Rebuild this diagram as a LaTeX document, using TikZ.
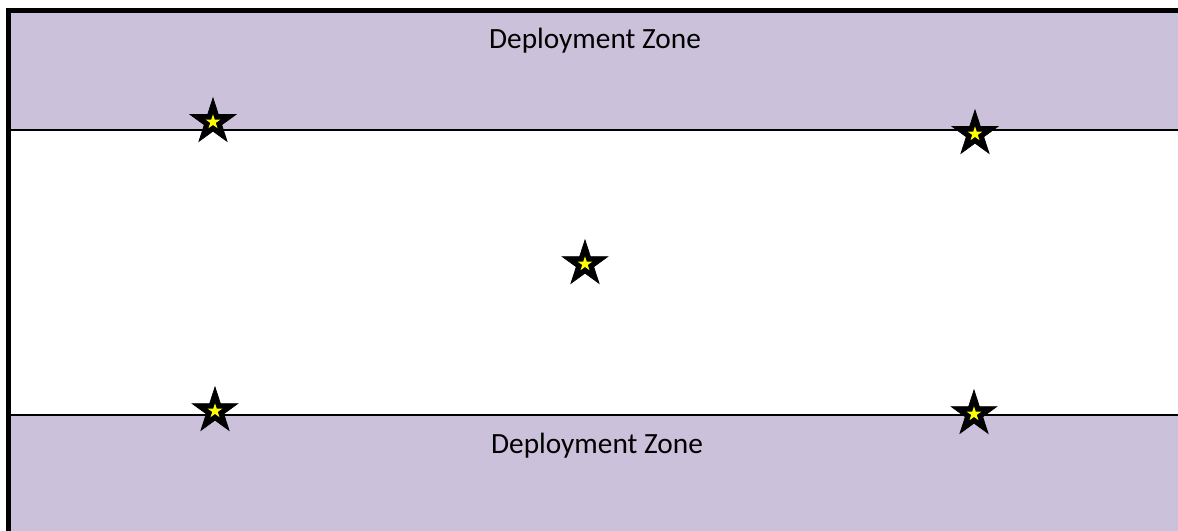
\documentclass[tikz,border=0pt]{standalone}
\usepackage{fontspec}
\setmainfont{Carlito}
\usetikzlibrary{shapes.geometric}
\definecolor{zonefill}{RGB}{204,193,218}
\definecolor{starcore}{RGB}{255,255,0}
\tikzset{
  zone/.style={fill=zonefill, draw=none},
  zoneedge/.style={draw=black, line width=1.5pt},
  frame/.style={draw=black, line width=3.75pt},
  zonelabel/.style={anchor=base, inner sep=0pt, font=\fontsize{22pt}{26pt}\selectfont},
  objective/.style={star, star points=5, star point ratio=2.618, shape border rotate=0,
    minimum size=36pt, inner sep=0pt, fill=black, draw=black, line width=0.5pt},
  objcore/.style={star, star points=5, star point ratio=2.618,
    minimum size=11.5pt, inner sep=0pt, fill=starcore, draw=none}
}
\begin{document}
\begin{tikzpicture}[x=0.75pt, y=-0.75pt]
  \useasboundingbox (0,0) rectangle (1178,531);
  \fill[white] (0,0) rectangle (1178,531);
  \begin{scope}
    \clip (0,0) rectangle (1178,531);
    % deployment zones
    \fill[zone] (11,13) rectangle (1180,130);
    \fill[zone] (11,415) rectangle (1180,533);
    \draw[zoneedge] (11,130) -- (1180,130);
    \draw[zoneedge] (11,415) -- (1180,415);
    % table frame
    \draw[frame] (8.5,545) -- (8.5,10.5) -- (1190,10.5);
  \end{scope}
  % zone labels
  \node[zonelabel] (topzone) at (595,49) {Deployment Zone};
  \node[zonelabel] (botzone) at (597,453) {Deployment Zone};
  % objective markers
  \foreach \n/\x/\y in {a/213/122, b/975/134, c/585/264, d/215/411, e/974/414} {
    \node[objective] (obj\n) at (\x,\y) {};
    \node[objcore] (core\n) at (obj\n.center) {};
  }
\end{tikzpicture}
\end{document}
